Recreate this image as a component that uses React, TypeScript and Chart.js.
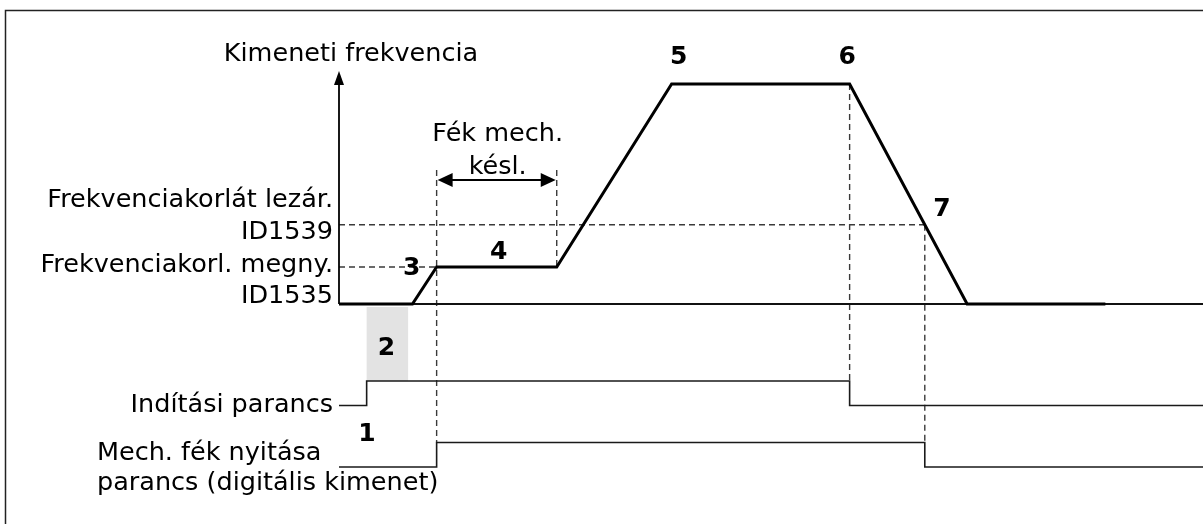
import { useEffect, useRef } from "react";
import { Chart, registerables } from "chart.js";

Chart.register(...registerables);

// ---- Data (time in arbitrary units, frequency in Hz, signals 0/1) ----
const freqTime = [0, 8.5, 11.3, 25.2, 38.5, 59.1, 72.7, 88.7];
const freqValue = [0, 0, 8.4, 8.4, 50, 50, 0, 0];

const startCmdTime = [0, 3.2, 3.2, 59.1, 59.1, 100];
const startCmdValue = [0, 0, 1, 1, 0, 0];

const brakeTime = [0, 11.3, 11.3, 67.8, 67.8, 100];
const brakeValue = [0, 0, 1, 1, 0, 0];

const openLimit = 8.4; // ID1535
const closeLimit = 18; // ID1539
const brakeOpenTime = 11.3;
const brakeDelayEnd = 25.2;
const maxReachedTime = 38.5;
const stopTime = 59.1;
const brakeCloseTime = 67.8;
const startDelayWindow = [3.2, 8.0];

const axisTitle = "Kimeneti frekvencia";
const delayLabel = ["Fék mech.", "késl."];
const closeLabel = ["Frekvenciakorlát lezár.", "ID1539"];
const openLabel = ["Frekvenciakorl. megny.", "ID1535"];
const startLabel = "Indítási parancs";
const brakeLabel = ["Mech. fék nyitása", "parancs (digitális kimenet)"];

// ---- Layout ----
const W = 1203;
const H = 524;
const FONT = "DejaVu Sans, Verdana, sans-serif";

function range(zeroPx: number, pxPerUnit: number, size: number, inverted: boolean) {
  if (inverted) {
    const min = -(size - zeroPx) / pxPerUnit;
    return { min, max: min + size / pxPerUnit };
  }
  const min = -zeroPx / pxPerUnit;
  return { min, max: min + size / pxPerUnit };
}

const xr = range(339, 8.64, W, false);
const yf = range(304, 4.4, H, true);
const ys = range(405.5, 24.5, H, true);
const yb = range(467, 24.5, H, true);

function toXY(xs: number[], ys2: number[]) {
  return xs.map((x, i) => ({ x, y: ys2[i] }));
}

const overlay = {
  id: "overlay",
  beforeDatasetsDraw(chart: any) {
    const { ctx, scales } = chart;
    const X = (v: number) => scales.x.getPixelForValue(v);
    const YF = (v: number) => scales.yf.getPixelForValue(v);
    const YS = (v: number) => scales.ys.getPixelForValue(v);
    const YB = (v: number) => scales.yb.getPixelForValue(v);
    ctx.save();
    // grey start delay box
    ctx.fillStyle = "#e3e3e3";
    const gx0 = X(startDelayWindow[0]);
    const gx1 = X(startDelayWindow[1]);
    const gy0 = YF(0) + 3;
    const gy1 = YS(1);
    ctx.fillRect(gx0, gy0, gx1 - gx0, gy1 - gy0);

    // dashed guides
    ctx.strokeStyle = "#3a3a3a";
    ctx.lineWidth = 1.4;
    ctx.setLineDash([6, 4]);
    const dash = (x0: number, y0: number, x1: number, y1: number) => {
      ctx.beginPath();
      ctx.moveTo(x0, y0);
      ctx.lineTo(x1, y1);
      ctx.stroke();
    };
    dash(X(0), YF(openLimit), X(brakeOpenTime), YF(openLimit));
    dash(X(0), YF(closeLimit), X(brakeCloseTime), YF(closeLimit));
    dash(X(brakeOpenTime), 170, X(brakeOpenTime), YB(1));
    dash(X(brakeDelayEnd), 170, X(brakeDelayEnd), YF(openLimit));
    dash(X(stopTime), YF(50), X(stopTime), YS(1));
    dash(X(brakeCloseTime), YF(closeLimit), X(brakeCloseTime), YB(1));
    ctx.setLineDash([]);

    // baseline
    ctx.strokeStyle = "#111";
    ctx.lineWidth = 1.8;
    ctx.beginPath();
    ctx.moveTo(X(0), YF(0));
    ctx.lineTo(W, YF(0));
    ctx.stroke();

    // y axis with arrow
    const ax = X(0);
    ctx.strokeStyle = "#000";
    ctx.lineWidth = 1.8;
    ctx.beginPath();
    ctx.moveTo(ax, YF(0));
    ctx.lineTo(ax, 80);
    ctx.stroke();
    ctx.fillStyle = "#000";
    ctx.beginPath();
    ctx.moveTo(ax, 71);
    ctx.lineTo(ax - 5, 85);
    ctx.lineTo(ax + 5, 85);
    ctx.closePath();
    ctx.fill();

    // double arrow for brake delay
    const ay = 180;
    const a0 = X(brakeOpenTime) + 1;
    const a1 = X(brakeDelayEnd) - 1;
    ctx.lineWidth = 2.2;
    ctx.beginPath();
    ctx.moveTo(a0 + 10, ay);
    ctx.lineTo(a1 - 10, ay);
    ctx.stroke();
    ctx.beginPath();
    ctx.moveTo(a0, ay);
    ctx.lineTo(a0 + 15, ay - 7);
    ctx.lineTo(a0 + 15, ay + 7);
    ctx.closePath();
    ctx.fill();
    ctx.beginPath();
    ctx.moveTo(a1, ay);
    ctx.lineTo(a1 - 15, ay - 7);
    ctx.lineTo(a1 - 15, ay + 7);
    ctx.closePath();
    ctx.fill();
    ctx.restore();
  },
  afterDatasetsDraw(chart: any) {
    const { ctx, scales } = chart;
    const X = (v: number) => scales.x.getPixelForValue(v);
    const YF = (v: number) => scales.yf.getPixelForValue(v);
    ctx.save();
    ctx.fillStyle = "#000";
    ctx.font = `25.5px ${FONT}`;
    ctx.textBaseline = "alphabetic";
    ctx.textAlign = "center";
    ctx.fillText(axisTitle, 351, 61);
    ctx.fillText(delayLabel[0], (X(brakeOpenTime) + X(brakeDelayEnd)) / 2 + 1, 141);
    ctx.fillText(delayLabel[1], (X(brakeOpenTime) + X(brakeDelayEnd)) / 2 + 1, 174);
    ctx.textAlign = "right";
    ctx.fillText(closeLabel[0], 333, 207);
    ctx.fillText(closeLabel[1], 333, 239);
    ctx.fillText(openLabel[0], 333, 272);
    ctx.fillText(openLabel[1], 333, 303);
    ctx.fillText(startLabel, 333, 412);
    ctx.textAlign = "left";
    ctx.fillText(brakeLabel[0], 97, 460);
    ctx.fillText(brakeLabel[1], 97, 490);

    // bold markers
    ctx.font = `bold 25px ${FONT}`;
    ctx.textAlign = "center";
    ctx.textBaseline = "middle";
    const mark = (t: string, x: number, y: number) => ctx.fillText(t, x, y);
    mark("1", 367, 434);
    mark("2", 386.5, 348);
    mark("3", X(brakeOpenTime) - 25, YF(openLimit) + 1);
    mark("4", (X(brakeOpenTime) + X(brakeDelayEnd)) / 2 + 2, 252);
    mark("5", X(maxReachedTime) + 7, 57);
    mark("6", X(stopTime) - 2.5, 57);
    mark("7", 942, 209);

    // frame
    ctx.strokeStyle = "#222";
    ctx.lineWidth = 1.5;
    ctx.strokeRect(5.5, 10.5, 1400, 700);
    ctx.restore();
  },
};

export default function App() {
  const ref = useRef<HTMLCanvasElement | null>(null);
  useEffect(() => {
    document.body.style.margin = "0";
    const canvas = ref.current!;
    const chart = new Chart(canvas, {
      type: "line",
      data: {
        datasets: [
          {
            data: toXY(freqTime, freqValue),
            yAxisID: "yf",
            borderColor: "#000",
            borderWidth: 3,
            pointRadius: 0,
            tension: 0,
            borderJoinStyle: "miter",
          },
          {
            data: toXY(startCmdTime, startCmdValue),
            yAxisID: "ys",
            borderColor: "#1a1a1a",
            borderWidth: 1.6,
            pointRadius: 0,
            tension: 0,
          },
          {
            data: toXY(brakeTime, brakeValue),
            yAxisID: "yb",
            borderColor: "#1a1a1a",
            borderWidth: 1.6,
            pointRadius: 0,
            tension: 0,
          },
        ],
      },
      options: {
        animation: false,
        responsive: false,
        maintainAspectRatio: false,
        layout: { padding: 0 },
        plugins: { legend: { display: false }, tooltip: { enabled: false } },
        events: [],
        scales: {
          x: { type: "linear", display: false, min: xr.min, max: xr.max },
          yf: { type: "linear", display: false, min: yf.min, max: yf.max },
          ys: { type: "linear", display: false, min: ys.min, max: ys.max },
          yb: { type: "linear", display: false, min: yb.min, max: yb.max },
        },
      },
      plugins: [overlay],
    });
    return () => chart.destroy();
  }, []);
  return (
    <div style={{ position: "absolute", left: 0, top: 0, width: W, height: H, background: "#fff" }}>
      <canvas ref={ref} width={W} height={H} style={{ width: W, height: H, display: "block" }} />
    </div>
  );
}
